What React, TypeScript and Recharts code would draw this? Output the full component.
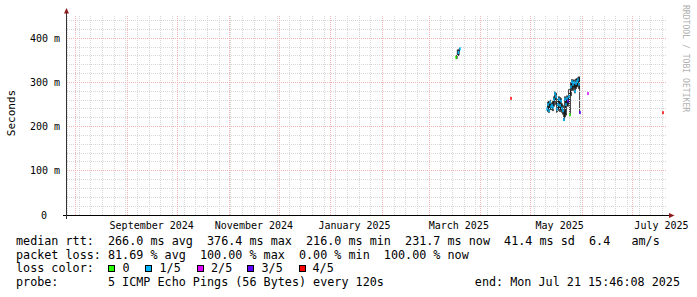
import React from 'react';
import { ComposedChart, Area, Scatter, XAxis, YAxis, ReferenceLine } from 'recharts';

const ts = (s: string) => Date.parse(s + 'Z');

const START = ts('2024-07-26T15:46:08');
const END = ts('2025-07-21T15:46:08');
const Y_MAX = 452.8;

const LOSS_COLORS = ['#26ff00', '#00b8ff', '#dd00ff', '#5e00ff', '#ff0000'];
const LOSS_LABELS = ['0', '1/5', '2/5', '3/5', '4/5'];

// x axis labels sit in the middle of every second month
const MONTH_LABELS = ['September 2024', 'November 2024', 'January 2025', 'March 2025', 'May 2025', 'July 2025'];
const MONTH_LABEL_TIMES = ['2024-09-15T12:00', '2024-11-15T20:00', '2025-01-15T04:00', '2025-03-18T18:00', '2025-05-18T06:00', '2025-07-18T08:00'];

const Y_TICKS = [0, 100, 200, 300, 400];
const Y_TICK_LABELS = ['0', '100 m', '200 m', '300 m', '400 m'];

// short burst in march (median, smoke low/high, loss count out of 5)
const MARCH_TIMES = ['2025-03-17T01:20', '2025-03-18T13:20', '2025-03-19T11:00'];
const MARCH_MED = [357, 368, 376.4];
const MARCH_LO = [354, 361, 371];
const MARCH_HI = [361, 374, 378];
const MARCH_LOSS = [0, 1, 1];

// the may burst, one consolidated sample every 14.4 h
const MAY_START = '2025-05-10T15:46';
const MAY_STEP_H = 14.4;
const MAY_MED = [240, 250, 236, 255, 245, 248, 244, 262, 275, 268, 240, 250, 262, 248, 258, 242, 236, 216, 262, 250, 264, 258, 268, 227, 290, 302, 296, 300, 280, 298, 302, 306, 296, 232];
const MAY_LO = [234, 236, 232, 240, 238, 240, 236, 246, 258, 250, 232, 236, 240, 234, 238, 232, 228, 214, 220, 226, 246, 246, 252, 225, 270, 284, 282, 288, 276, 286, 290, 292, 286, 230];
const MAY_HI = [252, 256, 258, 260, 252, 254, 258, 268, 279, 276, 256, 262, 268, 266, 264, 252, 248, 236, 268, 264, 270, 268, 284, 284, 300, 307, 304, 306, 298, 308, 309, 311, 313, 312];
const MAY_LOSS = [1, 1, 1, 1, 1, 1, 1, 1, 1, 1, 1, 1, 1, 1, 1, 1, 1, 1, 1, 1, 1, 3, 1, 0, 1, 1, 1, 1, 1, 1, 1, 1, 1, 3];

// lone samples
const LONE_TIMES = ['2025-04-19T01:20', '2025-06-04T06:10', '2025-07-19T06:10'];
const LONE_MED = [264, 275, 231.7];
const LONE_LOSS = [4, 2, 4];

const GAP_TIMES = ['2025-03-25T00:00', '2025-06-01T00:00'];

const mayTime = (i: number) => ts(MAY_START) + i * MAY_STEP_H * 3600e3;

const smokeData = [
  ...MARCH_TIMES.map((s, i) => ({ t: ts(s), range: [MARCH_LO[i], MARCH_HI[i]] })),
  { t: ts(GAP_TIMES[0]), range: null },
  ...MAY_MED.map((_, i) => ({ t: mayTime(i), range: [MAY_LO[i], MAY_HI[i]] })),
  { t: ts(GAP_TIMES[1]), range: null },
];

const medianData = [
  ...MARCH_TIMES.map((s, i) => ({ t: ts(s), med: MARCH_MED[i], loss: MARCH_LOSS[i] })),
  ...MAY_MED.map((v, i) => ({ t: mayTime(i), med: v, loss: MAY_LOSS[i] })),
  ...LONE_TIMES.map((s, i) => ({ t: ts(s), med: LONE_MED[i], loss: LONE_LOSS[i] })),
];

// grid: weekly minor lines, monthly major lines
const WEEKS: number[] = [];
for (let d = ts('2024-07-27T00:00'); d < END; d += 7 * 86400e3) WEEKS.push(d);
const MONTHS: number[] = [];
for (let m = 7; m <= 18; m++) MONTHS.push(Date.UTC(2024, m, 1));
const MINOR_Y: number[] = [];
for (let v = 20; v < Y_MAX; v += 20) if (v % 100 !== 0) MINOR_Y.push(v);
const MAJOR_Y = [100, 200, 300, 400];

const MONO = '"DejaVu Sans Mono", monospace';
const MINOR = '#d6d6d6';
const MAJOR = '#f0b4b4';
const ARROW = '#8b1c1c';

const XTick = (props: any) => {
  const idx = MONTH_LABEL_TIMES.findIndex((s) => ts(s) === props.payload.value);
  return (
    <text x={props.x} y={228.5} textAnchor="middle" fontFamily={MONO} fontSize={10} fill="#000">
      {MONTH_LABELS[idx]}
    </text>
  );
};

const YTick = (props: any) => {
  const idx = Y_TICKS.indexOf(props.payload.value);
  return (
    <text x={props.payload.value === 0 ? 47 : 60} y={props.y + 3.6} textAnchor="end" fontFamily={MONO} fontSize={10} fill="#000">
      {Y_TICK_LABELS[idx]}
    </text>
  );
};

const MedianMark = (p: any) => (
  <rect x={p.cx - 0.75} y={p.cy - 1.5} width={1.5} height={3} fill={LOSS_COLORS[p.payload.loss]} />
);

const BOX_X = [108.5, 145.5, 197.5, 247.5, 299.5];
const BOX_TEXT_X = [122.5, 159.5, 211, 261.5, 312.5];

export default function App() {
  return (
    <div style={{ position: 'absolute', left: 0, top: 0, width: 697, height: 297, background: '#fff' }}>
      <ComposedChart
        width={697}
        height={297}
        data={smokeData}
        margin={{ top: 15, right: 30, bottom: 52, left: 0 }}
      >
        {WEEKS.map((d) => (
          <ReferenceLine key={'w' + d} x={d} stroke={MINOR} strokeDasharray="1 1" shapeRendering="crispEdges" />
        ))}
        {MINOR_Y.map((v) => (
          <ReferenceLine key={'h' + v} y={v} stroke={MINOR} strokeDasharray="1 1" shapeRendering="crispEdges" />
        ))}
        {MONTHS.map((d) => (
          <ReferenceLine key={'m' + d} x={d} stroke={MAJOR} strokeDasharray="1 1" shapeRendering="crispEdges" />
        ))}
        {MAJOR_Y.map((v) => (
          <ReferenceLine key={'M' + v} y={v} stroke={MAJOR} strokeDasharray="1 1" shapeRendering="crispEdges" />
        ))}
        <XAxis
          dataKey="t"
          type="number"
          domain={[START, END]}
          allowDataOverflow
          ticks={MONTH_LABEL_TIMES.map(ts)}
          tick={XTick}
          interval={0}
          axisLine={false}
          tickLine={false}
          height={30}
        />
        <YAxis
          type="number"
          domain={[0, Y_MAX]}
          allowDataOverflow
          ticks={Y_TICKS}
          tick={YTick}
          interval={0}
          axisLine={false}
          tickLine={false}
          width={67}
        />
        <Area
          dataKey="range"
          type="step"
          stroke="#1e1e1e"
          strokeWidth={0.6}
          fill="#1e1e1e"
          fillOpacity={1}
          connectNulls={false}
          dot={false}
          activeDot={false}
          isAnimationActive={false}
        />
        <Scatter data={medianData} dataKey="med" shape={MedianMark} isAnimationActive={false} />
      </ComposedChart>
      <svg
        width={697}
        height={297}
        style={{ position: 'absolute', left: 0, top: 0, pointerEvents: 'none' }}
        fontFamily={MONO}
      >
        {/* axes */}
        <line x1={63} x2={670} y1={215.5} y2={215.5} stroke="#000" />
        <line x1={66.5} x2={66.5} y1={219} y2={12} stroke="#333" />
        <polygon points="64,13.5 69,13.5 66.5,8" fill={ARROW} />
        <polygon points="669,213 669,218 674.5,215.5" fill={ARROW} />
        <text transform="translate(15,113) rotate(-90)" textAnchor="middle" fontSize={11} fill="#000">
          Seconds
        </text>
        <text transform="translate(683,5) rotate(90)" fontSize={8.1} fill="#b0b0b0">
          RRDTOOL / TOBI OETIKER
        </text>
        {/* legend */}
        <g fontSize={11.75} fill="#000" style={{ whiteSpace: 'pre' }}>
          <text x={16} y={245} xmlSpace="preserve">
            median rtt:  266.0 ms avg  376.4 ms max  216.0 ms min  231.7 ms now  41.4 ms sd  6.4   am/s
          </text>
          <text x={16} y={258.7} xmlSpace="preserve">
            packet loss: 81.69 % avg  100.00 % max  0.00 % min  100.00 % now
          </text>
          <text x={16} y={272.4} xmlSpace="preserve">
            loss color:
          </text>
          {LOSS_COLORS.map((c, i) => (
            <g key={c}>
              <rect x={BOX_X[i]} y={265.5} width={6} height={6} fill={c} stroke="#000" strokeWidth={1} />
              <text x={BOX_TEXT_X[i]} y={272.4}>
                {LOSS_LABELS[i]}
              </text>
            </g>
          ))}
          <text x={16} y={286} xmlSpace="preserve">
            probe:       5 ICMP Echo Pings (56 Bytes) every 120s
          </text>
          <text x={680} y={286} textAnchor="end">
            end: Mon Jul 21 15:46:08 2025
          </text>
        </g>
      </svg>
    </div>
  );
}
